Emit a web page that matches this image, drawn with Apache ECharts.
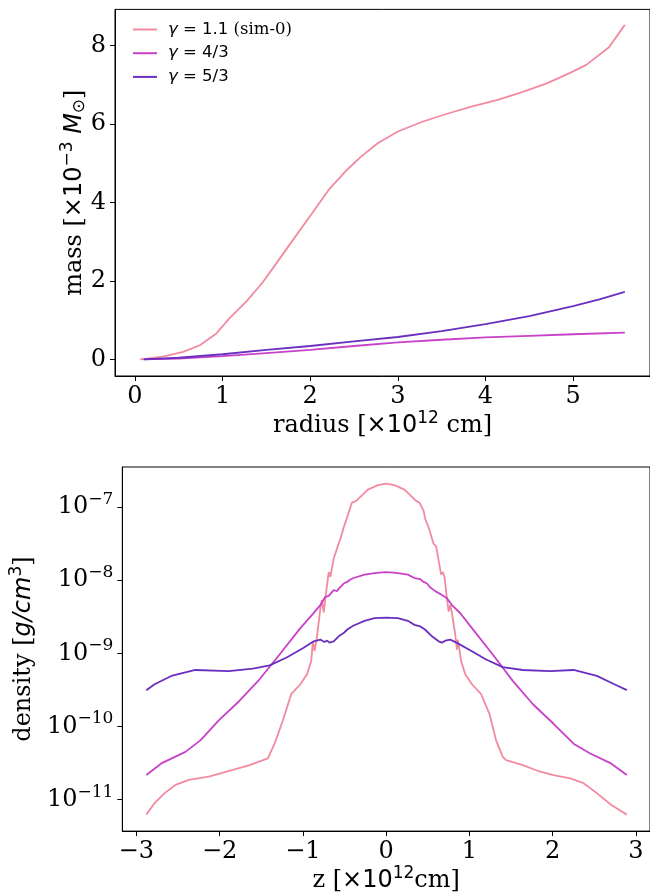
<!DOCTYPE html>
<html><head><meta charset="utf-8">
<script src="https://cdn.jsdelivr.net/npm/echarts@6/dist/echarts.min.js"></script>
<style>html,body{margin:0;padding:0;background:#fff}#c{width:650px;height:894px}</style>
</head><body><div id="c"></div><script>
// ---- data ----
const seriesNames = ['γ = 1.1 (sim-0)', 'γ = 4/3', 'γ = 5/3'];
const seriesColors = ['#f28aa0', '#c741c9', '#6a2fbf'];

// top panel: enclosed mass [1e-3 Msun] vs radius [1e12 cm]
const radiusSim0 = [0.06,0.32,0.55,0.74,0.93,1.08,1.27,1.45,1.64,1.83,2.02,2.21,2.40,2.58,2.77,3.00,3.28,3.57,3.85,4.13,4.41,4.70,4.96,5.15,5.41,5.59];
const massSim0   = [0,0.07,0.19,0.36,0.66,1.05,1.47,1.94,2.53,3.13,3.72,4.32,4.79,5.17,5.51,5.81,6.06,6.27,6.45,6.61,6.81,7.04,7.30,7.51,7.96,8.53];
const radius43 = [0.10,0.50,1.00,1.50,2.00,2.50,3.00,3.50,4.00,4.50,5.00,5.59];
const mass43   = [0,0.02,0.08,0.16,0.24,0.34,0.43,0.50,0.56,0.60,0.64,0.68];
const radius53 = [0.10,0.50,1.00,1.50,2.00,2.50,3.00,3.50,4.00,4.50,5.00,5.30,5.59];
const mass53   = [0,0.04,0.13,0.24,0.34,0.46,0.57,0.72,0.90,1.10,1.36,1.53,1.72];

// bottom panel: density [g/cm^3] vs z [1e12 cm]
const zSim0 = [-2.88,-2.78,-2.66,-2.53,-2.37,-2.13,-1.85,-1.64,-1.42,-1.34,-1.24,-1.14,-1.03,-0.95,-0.90,-0.88,-0.86,-0.83,-0.79,-0.77,-0.75,-0.73,-0.69,-0.67,-0.63,-0.58,-0.55,-0.51,-0.45,-0.41,-0.36,-0.30,-0.22,-0.10,0.00,0.10,0.22,0.30,0.36,0.40,0.45,0.47,0.51,0.57,0.60,0.63,0.66,0.68,0.70,0.73,0.75,0.77,0.79,0.83,0.85,0.86,0.88,0.90,0.95,1.03,1.14,1.24,1.32,1.40,1.44,1.64,1.85,2.01,2.21,2.37,2.53,2.70,2.89];
const densSim0 = [6.25e-12,9.0e-12,1.23e-11,1.59e-11,1.86e-11,2.07e-11,2.54e-11,2.97e-11,3.66e-11,5.83e-11,1.21e-10,2.77e-10,3.78e-10,5.16e-10,7.83e-10,1.46e-9,1.07e-9,1.71e-9,4.12e-9,5.35e-9,3.64e-9,5.64e-9,1.29e-8,1.11e-8,1.96e-8,2.96e-8,3.65e-8,5.25e-8,8.37e-8,1.15e-7,1.21e-7,1.41e-7,1.73e-7,1.99e-7,2.09e-7,1.99e-7,1.73e-7,1.41e-7,1.21e-7,1.15e-7,8.83e-8,6.81e-8,5.25e-8,3.13e-8,2.90e-8,1.86e-8,1.19e-8,1.29e-8,1.11e-8,5.64e-9,3.72e-9,4.57e-9,3.53e-9,1.79e-9,1.12e-9,1.54e-9,1.12e-9,7.83e-10,5.16e-10,3.78e-10,2.77e-10,1.49e-10,6.47e-11,3.85e-11,3.47e-11,2.97e-11,2.41e-11,2.17e-11,1.96e-11,1.68e-11,1.23e-11,8.53e-12,6.25e-12];
const z43 = [-2.88,-2.70,-2.41,-2.23,-2.01,-1.76,-1.52,-1.28,-1.03,-0.89,-0.79,-0.73,-0.69,-0.63,-0.59,-0.56,-0.51,-0.47,-0.43,-0.39,-0.26,-0.12,0.00,0.12,0.26,0.34,0.41,0.45,0.49,0.53,0.59,0.67,0.73,0.79,0.89,1.03,1.28,1.52,1.76,2.01,2.25,2.45,2.70,2.89];
const dens43 = [2.17e-11,3.13e-11,4.50e-11,6.47e-11,1.21e-10,2.25e-10,4.42e-10,9.64e-10,2.21e-9,3.35e-9,4.57e-9,5.93e-9,6.1e-9,7.29e-9,7.1e-9,7.85e-9,8.99e-9,9.46e-9,1.02e-8,1.07e-8,1.19e-8,1.26e-8,1.29e-8,1.26e-8,1.19e-8,1.07e-8,1.03e-8,9.46e-9,8.99e-9,7.93e-9,7.08e-9,6.25e-9,5.64e-9,4.57e-9,3.53e-9,2.21e-9,9.64e-10,4.20e-10,2.03e-10,1.09e-10,5.83e-11,4.28e-11,3.13e-11,2.17e-11];
const z53 = [-2.88,-2.78,-2.58,-2.29,-1.89,-1.60,-1.40,-1.20,-0.99,-0.87,-0.79,-0.74,-0.71,-0.68,-0.63,-0.57,-0.51,-0.47,-0.43,-0.39,-0.26,-0.14,0.00,0.14,0.26,0.34,0.41,0.47,0.55,0.63,0.67,0.71,0.77,0.85,1.03,1.20,1.40,1.64,1.97,2.25,2.53,2.74,2.89];
const dens53 = [3.14e-10,3.78e-10,4.91e-10,5.92e-10,5.73e-10,6.17e-10,6.84e-10,8.69e-10,1.19e-9,1.46e-9,1.54e-9,1.43e-9,1.49e-9,1.40e-9,1.46e-9,1.71e-9,1.89e-9,2.10e-9,2.26e-9,2.40e-9,2.78e-9,3.02e-9,3.08e-9,3.02e-9,2.78e-9,2.45e-9,2.33e-9,2.10e-9,1.71e-9,1.46e-9,1.40e-9,1.49e-9,1.54e-9,1.39e-9,1.07e-9,8.24e-10,6.49e-10,5.92e-10,5.73e-10,5.92e-10,4.91e-10,3.78e-10,3.14e-10];

// tick values
const radiusTicks = [0,1,2,3,4,5];
const massTicks = [0,2,4,6,8];
const zTicks = [-3,-2,-1,0,1,2,3];
const densityTicks = [1e-11,1e-10,1e-9,1e-8,1e-7];
const densityMinorTicks = [4e-12,5e-12,6e-12,7e-12,8e-12,9e-12,
  2e-11,3e-11,4e-11,5e-11,6e-11,7e-11,8e-11,9e-11,
  2e-10,3e-10,4e-10,5e-10,6e-10,7e-10,8e-10,9e-10,
  2e-9,3e-9,4e-9,5e-9,6e-9,7e-9,8e-9,9e-9,
  2e-8,3e-8,4e-8,5e-8,6e-8,7e-8,8e-8,9e-8,
  2e-7,3e-7];

// ---- chart ----
const SERIF = 'DejaVu Serif', SANS = 'DejaVu Sans';
const FS = 24, SFS = 17;
const nameRich = {
  a: {fontFamily: SERIF, fontSize: FS, color: '#000'},
  b: {fontFamily: SANS, fontSize: FS, color: '#000'},
  i: {fontFamily: SANS, fontSize: FS, fontStyle: 'italic', color: '#000'},
  sp: {fontFamily: SANS, fontSize: SFS, padding: [0,0,15,0], color: '#000'},
  sb: {fontFamily: SANS, fontSize: SFS, padding: [10,0,0,0], color: '#000'}
};
const minus = v => (v < 0 ? '\u2212' + Math.abs(v) : String(v));
const axLine = {onZero: false, lineStyle: {color: '#000', width: 1}};
const tickStyle = {color: '#000', width: 1};
const labelBase = {color: '#000', fontFamily: SERIF, fontSize: FS, margin: 9};

const pairs = (xs, ys) => xs.map((x, i) => [x, ys[i]]);

const chart = echarts.init(document.getElementById('c'), null, {renderer: 'canvas'});
chart.setOption({
  animation: false,
  backgroundColor: '#fff',
  grid: [
    {left: 115, top: 9.4, width: 539.4, height: 366.6, show: true, borderColor: '#000', borderWidth: 1},
    {left: 114.6, top: 467, width: 538.8, height: 368, show: true, borderColor: '#000', borderWidth: 1}
  ],
  legend: {
    left: 133, top: 20, orient: 'vertical', padding: 0,
    itemWidth: 24, itemHeight: 2, itemGap: 4.7, icon: 'rect',
    data: seriesNames,
    formatter: name => {
      const m = name.match(/^γ(\s=\s[^\s(]+)\s?(.*)$/);
      return '{g|γ}{m|' + m[1] + '}' + (m[2] ? '{m| }{s|' + m[2] + '}' : '');
    },
    textStyle: {
      padding: [0,0,0,6], lineHeight: 19,
      rich: {
        g: {fontFamily: SANS, fontStyle: 'italic', fontSize: 16.5, lineHeight: 19, color: '#000'},
        m: {fontFamily: SANS, fontSize: 16.5, lineHeight: 19, color: '#000'},
        s: {fontFamily: SERIF, fontSize: 16.5, lineHeight: 19, color: '#000'}
      }
    }
  },
  xAxis: [
    {type: 'value', gridIndex: 0, min: -0.2275, max: 5.8775,
     axisLine: axLine, splitLine: {show: false},
     axisTick: {length: 5, lineStyle: tickStyle, customValues: radiusTicks},
     axisLabel: Object.assign({}, labelBase, {customValues: radiusTicks, formatter: minus}),
     name: '{a|radius [}{b|×10}{sp|12}{a| cm]}', nameLocation: 'middle', nameGap: 31,
     nameTextStyle: {rich: nameRich}},
    {type: 'value', gridIndex: 1, min: -3.168, max: 3.168,
     axisLine: axLine, splitLine: {show: false},
     axisTick: {length: 5, lineStyle: tickStyle, customValues: zTicks},
     axisLabel: Object.assign({}, labelBase, {customValues: zTicks, formatter: minus}),
     name: '{a|z [}{b|×10}{sp|12}{a|cm]}', nameLocation: 'middle', nameGap: 30,
     nameTextStyle: {rich: nameRich}}
  ],
  yAxis: [
    {type: 'value', gridIndex: 0, min: -0.425, max: 8.925,
     axisLine: axLine, splitLine: {show: false},
     axisTick: {length: 5, lineStyle: tickStyle, customValues: massTicks},
     axisLabel: Object.assign({}, labelBase, {customValues: massTicks}),
     name: '{a|mass [}{b|×10}{sp|−3}{b| }{i|M}{sb|⊙}{a|]}', nameLocation: 'middle', nameRotate: 90,
     nameGap: 24, nameMoveOverlap: false,
     nameTextStyle: {rich: nameRich}},
    {type: 'log', logBase: 10, gridIndex: 1, min: 3.72e-12, max: 3.52e-7,
     axisLine: axLine, splitLine: {show: false},
     axisTick: {length: 5, lineStyle: tickStyle, customValues: densityTicks},
     axisLabel: Object.assign({}, labelBase, {
       customValues: densityTicks,
       formatter: v => '{b|10}{sp|\u2212' + Math.abs(Math.round(Math.log10(v))) + '}',
       rich: {
         b: {fontFamily: SERIF, fontSize: FS, color: '#000'},
         sp: {fontFamily: SERIF, fontSize: SFS, padding: [0,0,15,0], color: '#000'}
       }
     }),
     name: '{a|density [}{i|g/cm}{sp|3}{a|]}', nameLocation: 'middle', nameRotate: 90, nameGap: 74,
     nameTextStyle: {rich: nameRich}},
    {type: 'log', logBase: 10, gridIndex: 1, min: 3.72e-12, max: 3.52e-7,
     axisLine: {show: false, onZero: false}, splitLine: {show: false}, axisLabel: {show: false},
     axisTick: {length: 3, lineStyle: tickStyle, customValues: densityMinorTicks}}
  ],
  series: [
    {name: seriesNames[0], type: 'line', xAxisIndex: 0, yAxisIndex: 0, data: pairs(radiusSim0, massSim0)},
    {name: seriesNames[1], type: 'line', xAxisIndex: 0, yAxisIndex: 0, data: pairs(radius43, mass43)},
    {name: seriesNames[2], type: 'line', xAxisIndex: 0, yAxisIndex: 0, data: pairs(radius53, mass53)},
    {name: seriesNames[0], type: 'line', xAxisIndex: 1, yAxisIndex: 1, data: pairs(zSim0, densSim0)},
    {name: seriesNames[1], type: 'line', xAxisIndex: 1, yAxisIndex: 1, data: pairs(z43, dens43)},
    {name: seriesNames[2], type: 'line', xAxisIndex: 1, yAxisIndex: 1, data: pairs(z53, dens53)}
  ].map((s, k) => Object.assign(s, {
    symbol: 'none', smooth: false,
    lineStyle: {width: 1.8, color: seriesColors[k % 3]},
    itemStyle: {color: seriesColors[k % 3]},
    emphasis: {disabled: true}
  }))
});
</script></body></html>
